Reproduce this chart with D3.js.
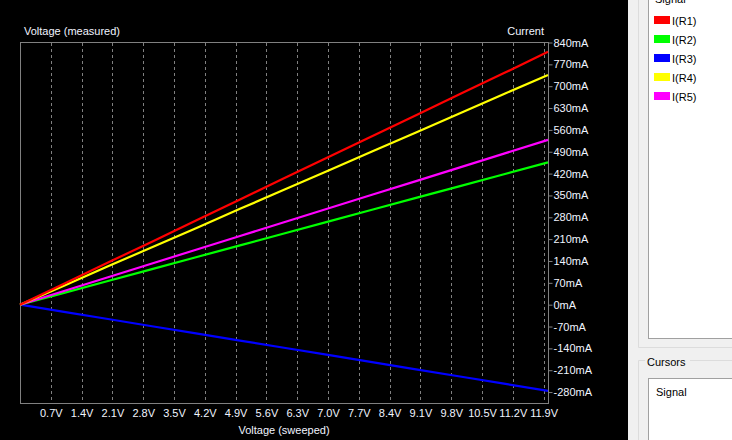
<!DOCTYPE html>
<html lang="en">
<head>
    <meta charset="UTF-8">
    <title>DC sweep - currents</title>
    <script src="https://cdnjs.cloudflare.com/ajax/libs/d3/7.9.0/d3.min.js"></script>
    <style>
        body { margin: 0; background: #000; }
        svg { display: block; }
        text { font-family: "Liberation Sans", Arial, sans-serif; font-size: 11px; }
    </style>
</head>
<body>
    <svg id="chart" width="732" height="440"></svg>

    <script>
        // sweep voltage (V)
        const volts = [0, 1, 2, 3, 4, 5, 6, 7, 8, 9, 10, 11, 12];

        // currents (mA)
        const iR1 = [0, 67, 135, 202, 270, 337, 405, 472, 540, 607, 675, 742, 810];
        const iR2 = [0, 38, 76, 114, 152, 190, 228, 266, 304, 342, 380, 418, 456];
        const iR3 = [0, -23, -46, -69, -92, -115, -138, -161, -184, -207, -230, -253, -276];
        const iR4 = [0, 61, 123, 184, 245, 307, 368, 429, 491, 552, 613, 675, 736];
        const iR5 = [0, 44, 88, 132, 176, 220, 264, 308, 352, 396, 440, 484, 528];

        const seriesNames = ["I(R1)", "I(R2)", "I(R3)", "I(R4)", "I(R5)"];
        const seriesColors = ["#ff0000", "#00ff00", "#0000ff", "#ffff00", "#ff00ff"];
        const seriesData = [iR1, iR2, iR3, iR4, iR5];
        // drawing order (blue under, red on top like the scope)
        const drawOrder = [2, 1, 4, 3, 0];

        const xTicks = [0.7, 1.4, 2.1, 2.8, 3.5, 4.2, 4.9, 5.6, 6.3, 7.0, 7.7, 8.4, 9.1, 9.8, 10.5, 11.2, 11.9];
        const yTicks = [840, 770, 700, 630, 560, 490, 420, 350, 280, 210, 140, 70, 0, -70, -140, -210, -280];

        const svg = d3.select("#chart");

        const x = d3.scaleLinear().domain([0, 12]).range([20, 548]);
        const y = d3.scaleLinear().domain([-315, 840]).range([403, 42.5]);

        const px = v => Math.round(v) + 0.5;

        // background
        svg.append("rect").attr("width", 628).attr("height", 440).attr("fill", "#000");

        // vertical dashed grid
        svg.append("g").selectAll("line")
            .data(xTicks)
            .join("line")
            .attr("x1", d => px(x(d))).attr("x2", d => px(x(d)))
            .attr("y1", 43).attr("y2", 403)
            .attr("stroke", "#808080")
            .attr("stroke-dasharray", "3,3");

        // frame
        svg.append("rect")
            .attr("x", 20.5).attr("y", 42.5)
            .attr("width", 528).attr("height", 361)
            .attr("fill", "none").attr("stroke", "#808080");

        // right axis (ticks + labels)
        const yAxis = d3.axisRight(y)
            .tickValues(yTicks)
            .tickSize(4)
            .tickPadding(1)
            .tickFormat(d => d + "mA");
        const ya = svg.append("g")
            .attr("transform", "translate(548.5,0)")
            .call(yAxis);
        ya.select(".domain").remove();
        ya.selectAll("line").attr("stroke", "#808080");
        ya.selectAll("text")
            .attr("fill", "#f0f4ff")
            .style("font-family", "Liberation Sans, Arial, sans-serif")
            .style("font-size", "11px");

        // bottom axis labels (no tick marks, grid does the job)
        const xAxis = d3.axisBottom(x)
            .tickValues(xTicks)
            .tickSize(0)
            .tickPadding(6)
            .tickFormat(d => d.toFixed(1) + "V");
        const xa = svg.append("g")
            .attr("transform", "translate(0,403)")
            .call(xAxis);
        xa.select(".domain").remove();
        xa.selectAll("text")
            .attr("fill", "#f0f4ff")
            .style("font-family", "Liberation Sans, Arial, sans-serif")
            .style("font-size", "11px");

        // titles
        svg.append("text").attr("x", 24).attr("y", 35)
            .attr("fill", "#f0f4ff").text("Voltage (measured)");
        svg.append("text").attr("x", 544).attr("y", 35)
            .attr("text-anchor", "end")
            .attr("fill", "#f0f4ff").text("Current");
        svg.append("text").attr("x", 284).attr("y", 434)
            .attr("text-anchor", "middle")
            .attr("fill", "#f0f4ff").text("Voltage (sweeped)");

        // traces
        const line = d3.line()
            .x((d, i) => x(volts[i]))
            .y(d => y(d));

        svg.append("g").selectAll("path")
            .data(drawOrder)
            .join("path")
            .attr("d", k => line(seriesData[k]))
            .attr("fill", "none")
            .attr("stroke", k => seriesColors[k])
            .attr("stroke-width", 2.2);

        // ---- side panel ----
        const panel = svg.append("g");
        panel.append("rect").attr("x", 628).attr("y", 0)
            .attr("width", 104).attr("height", 440).attr("fill", "#f0f0f0");

        // signal group box
        panel.append("path")
            .attr("d", "M638.5,0 V347.5 H732")
            .attr("fill", "none").attr("stroke", "#dcdcdc");
        panel.append("rect").attr("x", 648.5).attr("y", -2)
            .attr("width", 90).attr("height", 340.5)
            .attr("fill", "#fff").attr("stroke", "#a0a0a0");
        panel.append("text").attr("x", 655).attr("y", 3)
            .attr("fill", "#000").text("Signal");

        const legend = panel.append("g").selectAll("g")
            .data(seriesNames)
            .join("g")
            .attr("transform", (d, i) => `translate(654,${16 + i * 19})`);
        legend.append("rect")
            .attr("width", 16).attr("height", 8)
            .attr("fill", (d, i) => seriesColors[i]);
        legend.append("text")
            .attr("x", 18).attr("y", 8.5)
            .attr("fill", "#000").text(d => d);

        // cursors group box
        panel.append("path")
            .attr("d", "M645,360.5 H638.5 V440 M690,360.5 H732")
            .attr("fill", "none").attr("stroke", "#dcdcdc");
        panel.append("text").attr("x", 647).attr("y", 366)
            .attr("fill", "#000").text("Cursors");
        panel.append("rect").attr("x", 648.5).attr("y", 378.5)
            .attr("width", 90).attr("height", 70)
            .attr("fill", "#fff").attr("stroke", "#a0a0a0");
        panel.append("text").attr("x", 656).attr("y", 396)
            .attr("fill", "#000").text("Signal");
    </script>
</body>
</html>
